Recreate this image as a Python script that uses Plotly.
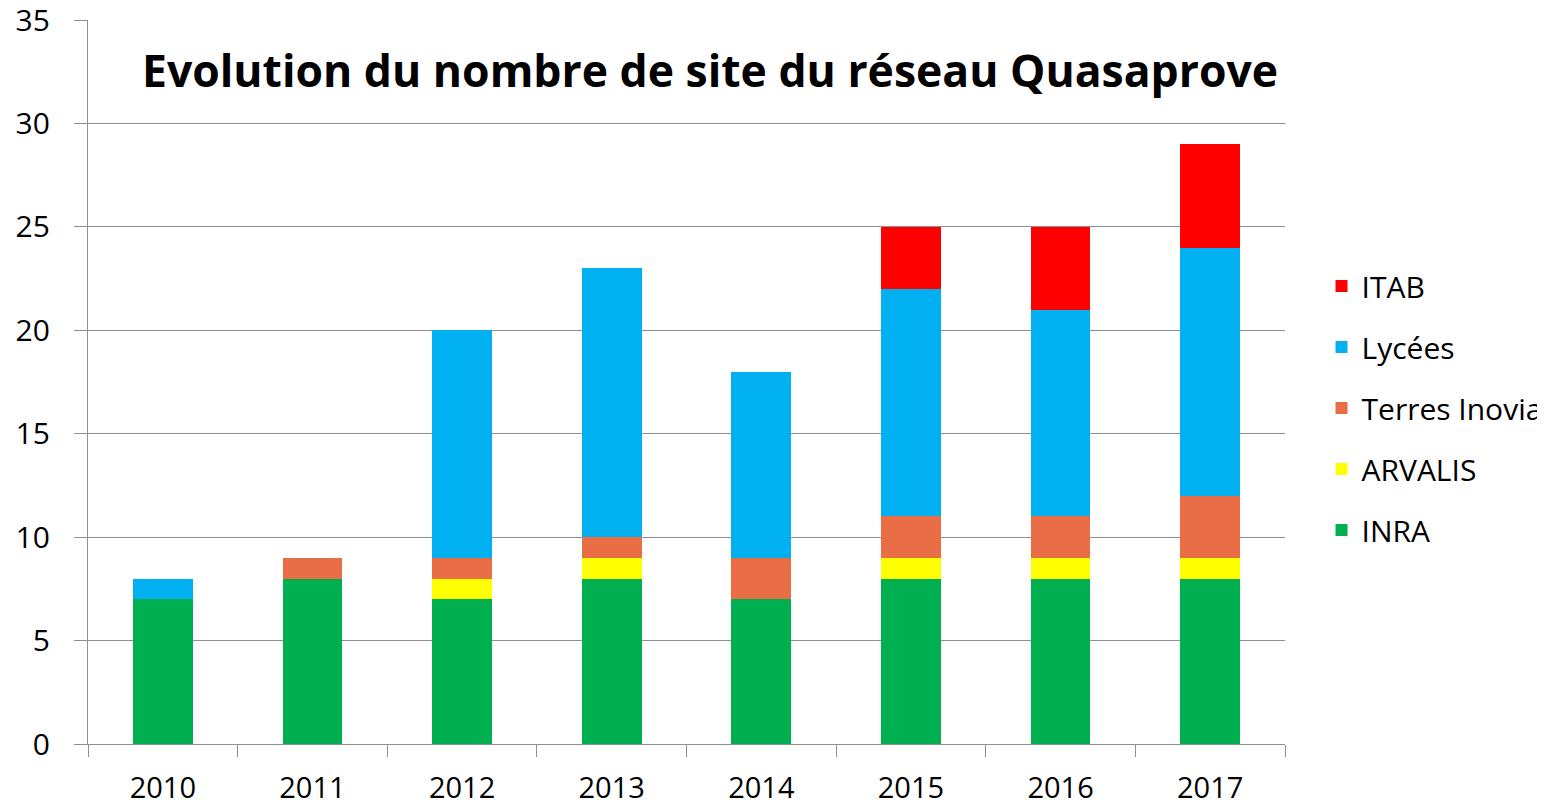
import plotly.graph_objects as go

years = ["2010", "2011", "2012", "2013", "2014", "2015", "2016", "2017"]
inra = [7, 8, 7, 8, 7, 8, 8, 8]
arvalis = [0, 0, 1, 1, 0, 1, 1, 1]
terres_inovia = [0, 1, 1, 1, 2, 2, 2, 3]
lycees = [1, 0, 11, 13, 9, 11, 10, 12]
itab = [0, 0, 0, 0, 0, 3, 4, 5]

series = [
    ("INRA", inra, "#00B050"),
    ("ARVALIS", arvalis, "#FFFF00"),
    ("Terres Inovia", terres_inovia, "#E96D45"),
    ("Lycées", lycees, "#00B0F0"),
    ("ITAB", itab, "#FF0000"),
]

title_text = "Evolution du nombre de site du réseau Quasaprove"
FONT = "Open Sans"
GRID = "#8f8f8f"

fig = go.Figure()
n = len(series)
for i, (name, vals, col) in enumerate(series):
    fig.add_trace(go.Bar(
        x=years, y=vals, name=name, legendgroup=name, legendrank=n - i,
        marker=dict(color=col, line=dict(width=0)),
    ))

fig.update_layout(
    width=1545, height=808,
    barmode="stack", bargap=0.6,
    paper_bgcolor="white", plot_bgcolor="white",
    margin=dict(l=80, r=268, t=12, b=72, autoexpand=False),
    font=dict(family=FONT, color="#000000", size=28),
    showlegend=True,
    legend=dict(
        x=1.0305, y=0.464, xanchor="left", yanchor="middle",
        traceorder="grouped", tracegroupgap=19,
        font=dict(family=FONT, size=30, color="#000000"),
        bgcolor="rgba(0,0,0,0)",
    ),
    annotations=[dict(
        text="<b>" + title_text + "</b>",
        xref="paper", yref="paper",
        x=(140 - 88) / 1197, y=(744 - 70) / 724,
        xanchor="left", yanchor="middle", showarrow=False,
        font=dict(family=FONT, size=44.5, color="#000000"),
    )],
)

fig.update_xaxes(
    type="category",
    showline=True, linecolor=GRID, linewidth=1.3,
    ticks="outside", tickson="boundaries", ticklen=12, tickcolor=GRID, tickwidth=1.3,
    showgrid=False,
    tickfont=dict(family=FONT, size=29, color="#000000"),
    ticklabelstandoff=18,
)
fig.update_yaxes(
    range=[0, 35], dtick=5, tick0=0,
    showline=True, linecolor=GRID, linewidth=1.3,
    showgrid=True, gridcolor=GRID, gridwidth=1.3,
    zeroline=False,
    ticks="outside", ticklen=13, tickcolor=GRID, tickwidth=1.3,
    tickfont=dict(family=FONT, size=30, color="#000000"),
    ticklabelstandoff=18, ticklabeloverflow="allow",
)

fig.write_html("out.html")
